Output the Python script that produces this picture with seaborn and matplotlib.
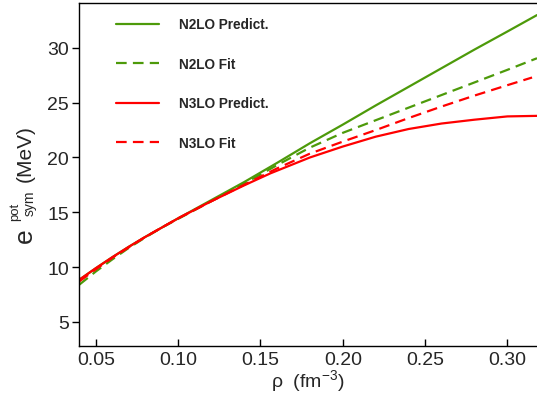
import numpy as np
import pandas as pd
import matplotlib
matplotlib.use("Agg")
import matplotlib.pyplot as plt
import seaborn as sns

# ---- data ----
rho_n2lo_pred = [0.04, 0.05, 0.06, 0.07, 0.08, 0.09, 0.10, 0.12, 0.14, 0.16, 0.18, 0.20, 0.22, 0.24, 0.26, 0.28, 0.30, 0.318]
e_n2lo_pred   = [8.85, 9.9, 10.9, 11.85, 12.75, 13.6, 14.45, 16.1, 17.75, 19.5, 21.3, 23.0, 24.75, 26.45, 28.15, 29.85, 31.5, 33.0]

rho_n2lo_fit  = [0.04, 0.05, 0.06, 0.07, 0.08, 0.09, 0.10, 0.12, 0.14, 0.16, 0.18, 0.20, 0.22, 0.24, 0.26, 0.28, 0.30, 0.318]
e_n2lo_fit    = [8.4, 9.6, 10.7, 11.75, 12.7, 13.6, 14.4, 16.0, 17.6, 19.3, 20.9, 22.25, 23.4, 24.55, 25.7, 26.85, 28.0, 29.06]

rho_n3lo_pred = [0.04, 0.05, 0.06, 0.07, 0.08, 0.09, 0.10, 0.12, 0.14, 0.156, 0.18, 0.20, 0.22, 0.24, 0.26, 0.28, 0.30, 0.318]
e_n3lo_pred   = [8.85, 9.9, 10.9, 11.85, 12.75, 13.6, 14.45, 16.0, 17.45, 18.55, 20.0, 21.0, 21.9, 22.6, 23.1, 23.45, 23.75, 23.8]

rho_n3lo_fit  = [0.04, 0.05, 0.06, 0.07, 0.08, 0.09, 0.10, 0.12, 0.14, 0.16, 0.18, 0.20, 0.22, 0.24, 0.26, 0.28, 0.30, 0.315]
e_n3lo_fit    = [8.7, 9.8, 10.85, 11.8, 12.75, 13.6, 14.45, 16.0, 17.5, 19.0, 20.35, 21.45, 22.5, 23.6, 24.65, 25.65, 26.6, 27.3]

labels = ["N2LO Predict.", "N2LO Fit", "N3LO Predict.", "N3LO Fit"]
x_ticks = [0.05, 0.10, 0.15, 0.20, 0.25, 0.30]
x_tick_labels = ["0.05", "0.10", "0.15", "0.20", "0.25", "0.30"]
y_ticks = [5, 10, 15, 20, 25, 30]

frames = []
for lab, xs, ys in zip(labels,
                       [rho_n2lo_pred, rho_n2lo_fit, rho_n3lo_pred, rho_n3lo_fit],
                       [e_n2lo_pred, e_n2lo_fit, e_n3lo_pred, e_n3lo_fit]):
    frames.append(pd.DataFrame({"rho": xs, "e": ys, "series": lab}))
df = pd.concat(frames, ignore_index=True)

sns.set_style("white")
plt.rcParams["font.family"] = ["Liberation Sans", "DejaVu Sans"]
plt.rcParams["mathtext.fontset"] = "custom"
plt.rcParams["mathtext.rm"] = "Liberation Sans"
plt.rcParams["mathtext.it"] = "Liberation Sans"

green = "#4d9a0a"
red = "#ff0000"
palette = {labels[0]: green, labels[1]: green, labels[2]: red, labels[3]: red}
dashes = {labels[0]: "", labels[1]: (4.8, 2.8), labels[2]: "", labels[3]: (4.8, 2.8)}

W, H = 537, 402
fig = plt.figure(figsize=(W / 100, H / 100), dpi=100)
ax = fig.add_axes([0.147, 0.137, 0.853, 0.853])

sns.lineplot(data=df, x="rho", y="e", hue="series", style="series",
             hue_order=labels, style_order=labels,
             palette=palette, dashes=dashes, linewidth=1.6, ax=ax, sort=False)

ax.set_xlim(0.0397, 0.318)
ax.set_ylim(2.8, 34.1)
ax.set_xticks(x_ticks)
ax.set_xticklabels(x_tick_labels)
ax.set_yticks(y_ticks)
ax.tick_params(axis="y", direction="out", length=5, width=1, labelsize=14, color="black", left=True, pad=2)
ax.tick_params(axis="x", direction="in", length=5, width=1, labelsize=14, color="black", bottom=True, pad=4)
for s in ["left", "bottom", "top"]:
    ax.spines[s].set_color("black")
    ax.spines[s].set_linewidth(1.0)
ax.spines["right"].set_visible(False)

ax.set_xlabel(r"ρ  (fm$^{\mathregular{-3}}$)", fontsize=14, labelpad=-1)
ax.set_ylabel("")

# y label composed of pieces (large e with small super/subscript)
def fx(px):
    return px / W

def fy(py):
    return (H - py) / H

fig.text(fx(25), fy(243), "e", rotation=90, fontsize=19, ha="center", va="bottom")
fig.text(fx(15.5), fy(221), "pot", rotation=90, fontsize=9.5, ha="center", va="bottom")
fig.text(fx(30), fy(216), "sym", rotation=90, fontsize=10, ha="center", va="bottom")
fig.text(fx(25), fy(182), "(MeV)", rotation=90, fontsize=15, ha="center", va="bottom")

leg = ax.legend(loc="upper left", frameon=False, bbox_to_anchor=(0.0808, 0.958),
                borderpad=0, borderaxespad=0,
                handlelength=3.15, labelspacing=1.87, handletextpad=1.47,
                prop={"weight": "bold", "size": 9.8})

fig.savefig("out.png", dpi=100)
